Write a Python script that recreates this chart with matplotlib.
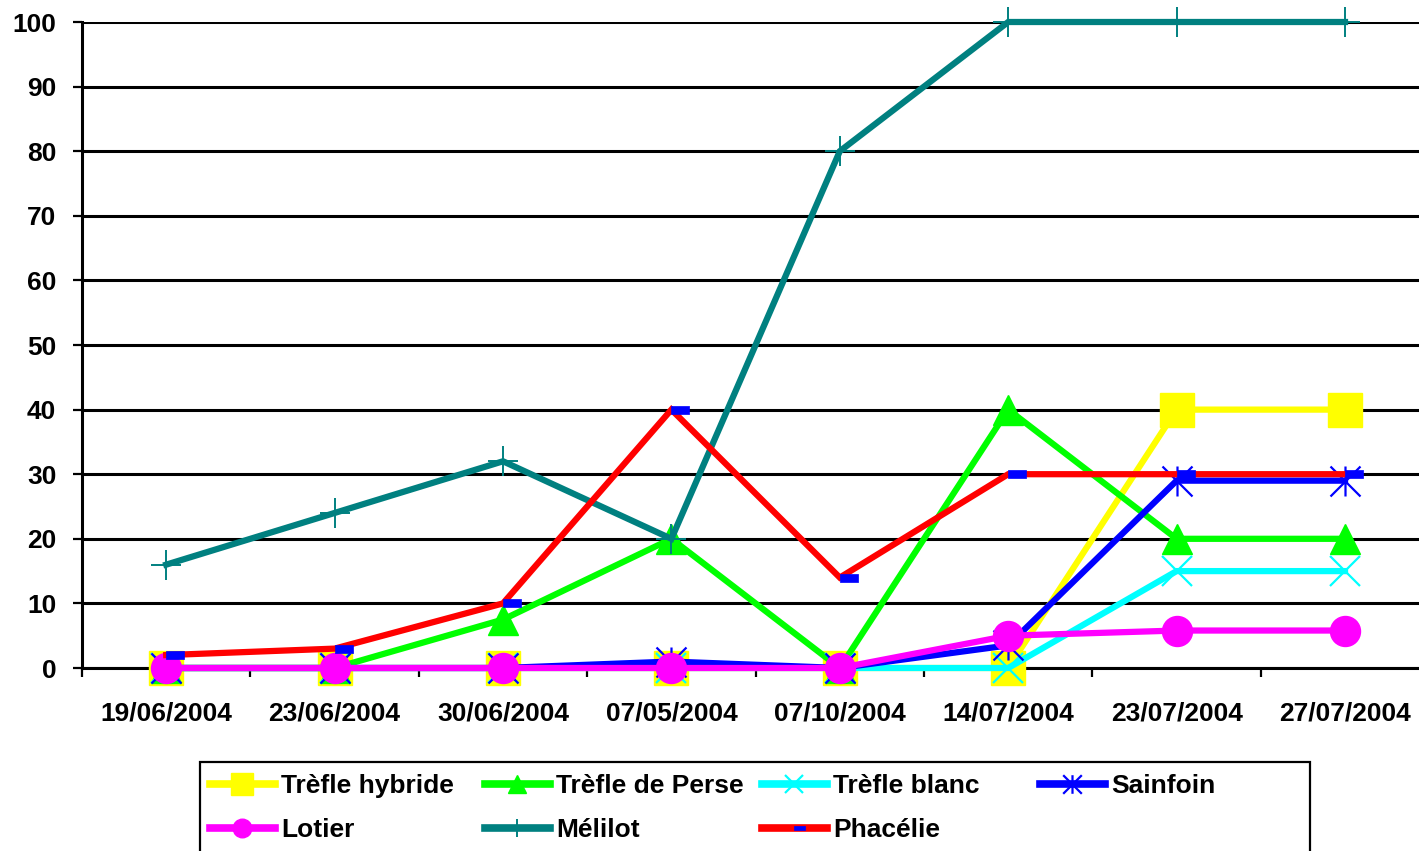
import matplotlib
matplotlib.use("Agg")
import matplotlib.pyplot as plt
import numpy as np
from matplotlib.path import Path
from matplotlib.patches import Rectangle

categories = ["19/06/2004", "23/06/2004", "30/06/2004", "07/05/2004",
              "07/10/2004", "14/07/2004", "23/07/2004", "27/07/2004"]
series_names = ["Trèfle hybride", "Trèfle de Perse", "Trèfle blanc", "Sainfoin",
                "Lotier", "Mélilot", "Phacélie"]
trefle_hybride = [0, 0, 0, 0, 0, 0, 40, 40]
trefle_perse = [0, 0, 7.5, 20, 0, 40, 20, 20]
trefle_blanc = [0, 0, 0, 0, 0, 0, 15, 15]
sainfoin = [0, 0, 0, 1, 0, 3.5, 29, 29]
lotier = [0, 0, 0, 0, 0, 5, 5.8, 5.8]
melilot = [16, 24, 32, 20, 80, 100, 100, 100]
phacelie = [2, 3, 10, 40, 14, 30, 30, 30]
y_ticks = list(range(0, 101, 10))

W, H = 1419, 851
FONT = "Liberation Sans"
FS = 19

fig = plt.figure(figsize=(W / 100, H / 100), dpi=100)
fig.patch.set_facecolor("white")
step = 168.4
ax = fig.add_axes([82 / W, (H - 668) / H, 8 * step / W, (668 - 22) / H])

asterisk = Path([(0, -1), (0, 1), (-1, -1), (1, 1), (-1, 1), (1, -1)],
                [Path.MOVETO, Path.LINETO, Path.MOVETO, Path.LINETO, Path.MOVETO, Path.LINETO])
rect = Path([(0, -0.2), (1, -0.2), (1, 0.2), (0, 0.2), (0, -0.2)],
            [Path.MOVETO, Path.LINETO, Path.LINETO, Path.LINETO, Path.CLOSEPOLY])

x = np.arange(len(categories))
lw = 4.5
styles = [
    (trefle_hybride, "#FFFF00", dict(marker="s", ms=24.5, mfc="#FFFF00", mec="#FFFF00", mew=1)),
    (trefle_perse, "#00FF00", dict(marker="^", ms=21.6, mfc="#00FF00", mec="#00FF00", mew=1)),
    (trefle_blanc, "#00FFFF", dict(marker="x", ms=21.6, mec="#00FFFF", mew=1.6)),
    (sainfoin, "#0000FF", dict(marker=asterisk, ms=21.6, mfc="none", mec="#0000FF", mew=1.6)),
    (lotier, "#FF00FF", dict(marker="o", ms=21.6, mfc="#FF00FF", mec="#FF00FF", mew=1)),
    (melilot, "#008080", dict(marker="+", ms=21.6, mec="#008080", mew=1.4)),
    (phacelie, "#FF0000", dict(marker=rect, ms=26, mfc="#0000FF", mec="#0000FF", mew=0.5)),
]
handles = []
for i, (vals, col, mk) in enumerate(styles):
    h, = ax.plot(x, vals, color=col, lw=lw, clip_on=False, zorder=3 + i,
                 label=series_names[i], solid_joinstyle="miter", **mk)
    handles.append(h)

ax.set_xlim(-0.5, 7.5)
ax.set_ylim(0, 100)
ax.set_yticks(y_ticks)
ax.set_yticklabels([str(v) for v in y_ticks], fontfamily=FONT, fontweight="bold", fontsize=FS)
ax.yaxis.grid(True, color="black", lw=2.2)
ax.set_axisbelow(True)
ax.set_xticks(np.arange(-0.5, 8, 1))
ax.set_xticklabels([])
ax.set_xticks(x, minor=True)
ax.set_xticklabels(categories, minor=True, fontfamily=FONT, fontweight="bold", fontsize=FS)
ax.tick_params(axis="x", which="major", length=6.5, width=1.6, direction="out")
ax.tick_params(axis="x", which="minor", length=0, pad=24)
ax.tick_params(axis="y", length=6.5, width=1.6, direction="out", pad=12)
for s in ["top", "right"]:
    ax.spines[s].set_visible(False)
ax.spines["left"].set_linewidth(2.2)
ax.spines["bottom"].set_linewidth(2.2)

# legend frame (bottom edge falls outside the figure, as in the reference)
fig.patches.append(Rectangle((200 / W, -0.05), (1310 - 200) / W, (H - 762) / H + 0.05,
                             transform=fig.transFigure, fill=False, ec="black", lw=1.6,
                             clip_on=False))
pos = [(210, 786), (485, 786), (762, 786), (1040, 786),
       (210, 830), (485, 830), (762, 830)]
for h, (px, py) in zip(handles, pos):
    leg = fig.legend([h], [h.get_label()], loc="center left",
                     bbox_to_anchor=(px / W, 1 - py / H), frameon=False,
                     borderpad=0, borderaxespad=0, handlelength=2.46, handletextpad=0.23,
                     markerscale=0.62, prop=dict(family=FONT, weight="bold", size=FS))
    for ln in leg.get_lines():
        ln.set_linewidth(5.5)

fig.savefig("out.png", dpi=100, facecolor="white")
